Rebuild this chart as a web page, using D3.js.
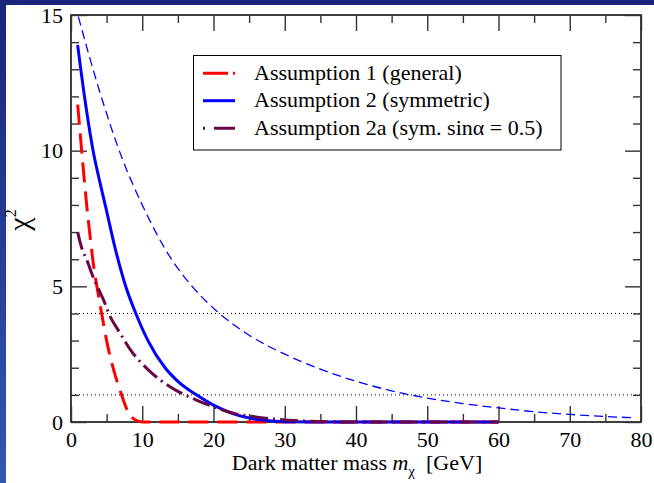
<!DOCTYPE html>
<html>
<head>
<meta charset="utf-8">
<script src="https://cdn.jsdelivr.net/npm/d3@7"></script>
<style>
  html, body { margin: 0; padding: 0; background: #fff; }
  svg { display: block; }
  svg text { font-family: "Liberation Serif", "Times New Roman", Tinos, "DejaVu Serif", serif; fill: #000; }
</style>
</head>
<body>
<div id="chart"></div>
<script>
// ---- Data ----
const xTicksMajor = [0, 10, 20, 30, 40, 50, 60, 70, 80];
const xTicksMinor = [5, 15, 25, 35, 45, 55, 65, 75];
const yTicksMajor = [0, 5, 10, 15];
const yTicksMinor = [1, 2, 3, 4, 6, 7, 8, 9, 11, 12, 13, 14];
const referenceLevels = [4, 1];

const legendLabels = [
  "Assumption 1 (general)",
  "Assumption 2 (symmetric)",
  "Assumption 2a (sym. sin\u03b1 = 0.5)"
];

// Assumption 1 (general) - red long dashes
const a1Mass = [0.94, 1.3, 1.7, 2.2, 2.7, 3.2, 3.7, 4.3, 5.0, 5.9, 7.1, 8.0, 9.0, 10, 20, 30, 40, 50, 60];
const a1Chi2 = [11.7, 10.6, 9.4, 8.0, 6.8, 5.7, 4.9, 4.0, 3.0, 2.0, 1.0, 0.38, 0.08, 0, 0, 0, 0, 0, 0];

// Assumption 2 (symmetric) - blue solid
const a2Mass = [0.93, 2.0, 3.1, 4.0, 4.8, 6.2, 7.8, 9.1, 10.8, 13.2, 15, 17.6, 20, 22.8, 26.5, 30, 35, 40, 50, 60];
const a2Chi2 = [13.9, 11.8, 10.0, 8.9, 8.0, 6.4, 4.9, 4.0, 3.0, 2.0, 1.5, 1.0, 0.62, 0.3, 0.08, 0.01, 0, 0, 0, 0];

// Assumption 2a (sym. sin alpha = 0.5) - maroon dash-dot
const a2aMass = [0.94, 1.3, 2.4, 2.9, 3.6, 4.77, 5.24, 6.9, 8.3, 10.85, 13.9, 17.6, 20, 23.3, 25.6, 28.9, 33.5, 40, 50, 60];
const a2aChi2 = [7.0, 6.6, 5.85, 5.48, 5.05, 4.37, 4.04, 3.27, 2.68, 1.92, 1.3, 0.81, 0.56, 0.29, 0.2, 0.1, 0.03, 0, 0, 0];

// Thin dashed blue curve (unlabelled)
const dashMass = [1.03, 4, 7.2, 10, 14.1, 17, 20.4, 25, 30, 35, 40, 45, 50, 55, 60, 65, 70, 75, 79];
const dashChi2 = [14.94, 12.2, 9.7, 8.0, 6.0, 5.0, 4.1, 3.2, 2.5, 1.95, 1.5, 1.15, 0.88, 0.68, 0.52, 0.38, 0.28, 0.2, 0.16];

// ---- Drawing ----
const W = 654, H = 483;
const svg = d3.select("#chart").append("svg").attr("width", W).attr("height", H);

const defs = svg.append("defs");
const grad = defs.append("linearGradient").attr("id", "bg").attr("x1", 0).attr("y1", 0).attr("x2", 0).attr("y2", 1);
grad.append("stop").attr("offset", "0%").attr("stop-color", "#1b237a");
grad.append("stop").attr("offset", "100%").attr("stop-color", "#3356b6");
svg.append("rect").attr("width", W).attr("height", H).attr("fill", "url(#bg)");
svg.append("rect").attr("x", 6).attr("y", 5).attr("width", W - 6).attr("height", H - 5).attr("fill", "#fff");

const L = 71, R = 641, T = 15, B = 422;
const x = d3.scaleLinear().domain([0, 80]).range([L, R]);
const y = d3.scaleLinear().domain([0, 15]).range([B, T]);

// dotted reference lines
svg.append("g").selectAll("line").data(referenceLevels).join("line")
  .attr("x1", L).attr("x2", R)
  .attr("y1", d => y(d)).attr("y2", d => y(d))
  .attr("stroke", "#000").attr("stroke-width", 1).attr("stroke-dasharray", "1,3");

// frame
svg.append("rect").attr("x", L).attr("y", T).attr("width", R - L).attr("height", B - T)
  .attr("fill", "none").attr("stroke", "#000").attr("stroke-width", 1.5);

function styleAxis(g) {
  g.select(".domain").remove();
  g.attr("font-family", null);
  g.selectAll(".tick line").attr("stroke", "#333").attr("stroke-width", 1.4);
}

// bottom
svg.append("g").attr("transform", `translate(0,${B})`)
  .call(d3.axisBottom(x).tickValues(xTicksMajor).tickSize(-16).tickPadding(9).tickFormat(d3.format("d")))
  .call(styleAxis)
  .call(g => g.selectAll("text").attr("font-size", 22));
svg.append("g").attr("transform", `translate(0,${B})`)
  .call(d3.axisBottom(x).tickValues(xTicksMinor).tickSize(-8).tickFormat(""))
  .call(styleAxis);
// top
svg.append("g").attr("transform", `translate(0,${T})`)
  .call(d3.axisTop(x).tickValues(xTicksMajor).tickSize(-16).tickFormat(""))
  .call(styleAxis);
svg.append("g").attr("transform", `translate(0,${T})`)
  .call(d3.axisTop(x).tickValues(xTicksMinor).tickSize(-8).tickFormat(""))
  .call(styleAxis);
// left
svg.append("g").attr("transform", `translate(${L},0)`)
  .call(d3.axisLeft(y).tickValues(yTicksMajor).tickSize(-16).tickPadding(8).tickFormat(d3.format("d")))
  .call(styleAxis)
  .call(g => g.selectAll("text").attr("font-size", 22));
svg.append("g").attr("transform", `translate(${L},0)`)
  .call(d3.axisLeft(y).tickValues(yTicksMinor).tickSize(-8).tickFormat(""))
  .call(styleAxis);
// right
svg.append("g").attr("transform", `translate(${R},0)`)
  .call(d3.axisRight(y).tickValues(yTicksMajor).tickSize(-16).tickFormat(""))
  .call(styleAxis);
svg.append("g").attr("transform", `translate(${R},0)`)
  .call(d3.axisRight(y).tickValues(yTicksMinor).tickSize(-8).tickFormat(""))
  .call(styleAxis);

// curves
const line = d3.line().x(d => x(d[0])).y(d => y(d[1])).curve(d3.curveMonotoneX);
const series = [
  { mass: a1Mass, chi2: a1Chi2, color: "#ff0000", width: 3, dash: "20,9" },
  { mass: a2Mass, chi2: a2Chi2, color: "#0000ff", width: 3, dash: null },
  { mass: a2aMass, chi2: a2aChi2, color: "#670748", width: 3, dash: "18,5,2,5" },
  { mass: dashMass, chi2: dashChi2, color: "#0000ff", width: 1.3, dash: "9,5" }
];
svg.append("g").selectAll("path").data(series).join("path")
  .attr("d", s => line(d3.zip(s.mass, s.chi2)))
  .attr("fill", "none")
  .attr("stroke", s => s.color)
  .attr("stroke-width", s => s.width)
  .attr("stroke-dasharray", s => s.dash);

// legend
const lg = svg.append("g");
lg.append("rect").attr("x", 193.5).attr("y", 55.5).attr("width", 367.5).attr("height", 94.5)
  .attr("fill", "#fff").attr("stroke", "#000").attr("stroke-width", 1);
const legendStyles = [
  { color: "#ff0000", dash: "25,5,2,40" },
  { color: "#0000ff", dash: null },
  { color: "#670748", dash: "2,9,22" }
];
const rowY = [73.3, 100.7, 128.3];
legendLabels.forEach((lab, i) => {
  lg.append("line").attr("x1", 203).attr("x2", 235).attr("y1", rowY[i]).attr("y2", rowY[i])
    .attr("stroke", legendStyles[i].color).attr("stroke-width", 3)
    .attr("stroke-dasharray", legendStyles[i].dash);
  lg.append("text").attr("x", 254).attr("y", rowY[i] + 6.5).attr("font-size", 22).text(lab);
});

// x axis title
const xt = svg.append("text").attr("x", (L + R) / 2 + 1).attr("y", 470)
  .attr("text-anchor", "middle").attr("font-size", 22);
xt.append("tspan").text("Dark matter mass ");
xt.append("tspan").attr("font-style", "italic").text("m");
xt.append("tspan").attr("font-size", 15).attr("dy", 6).text("\u03c7");
xt.append("tspan").attr("dy", -6).text("\u00a0\u00a0[GeV]");

// y axis title
const yt = svg.append("text").attr("transform", "translate(29,220) rotate(-90)")
  .attr("text-anchor", "middle").attr("font-size", 30);
yt.append("tspan").text("\u03c7");
yt.append("tspan").attr("font-size", 16).attr("dy", -13).text("2");
</script>
</body>
</html>
